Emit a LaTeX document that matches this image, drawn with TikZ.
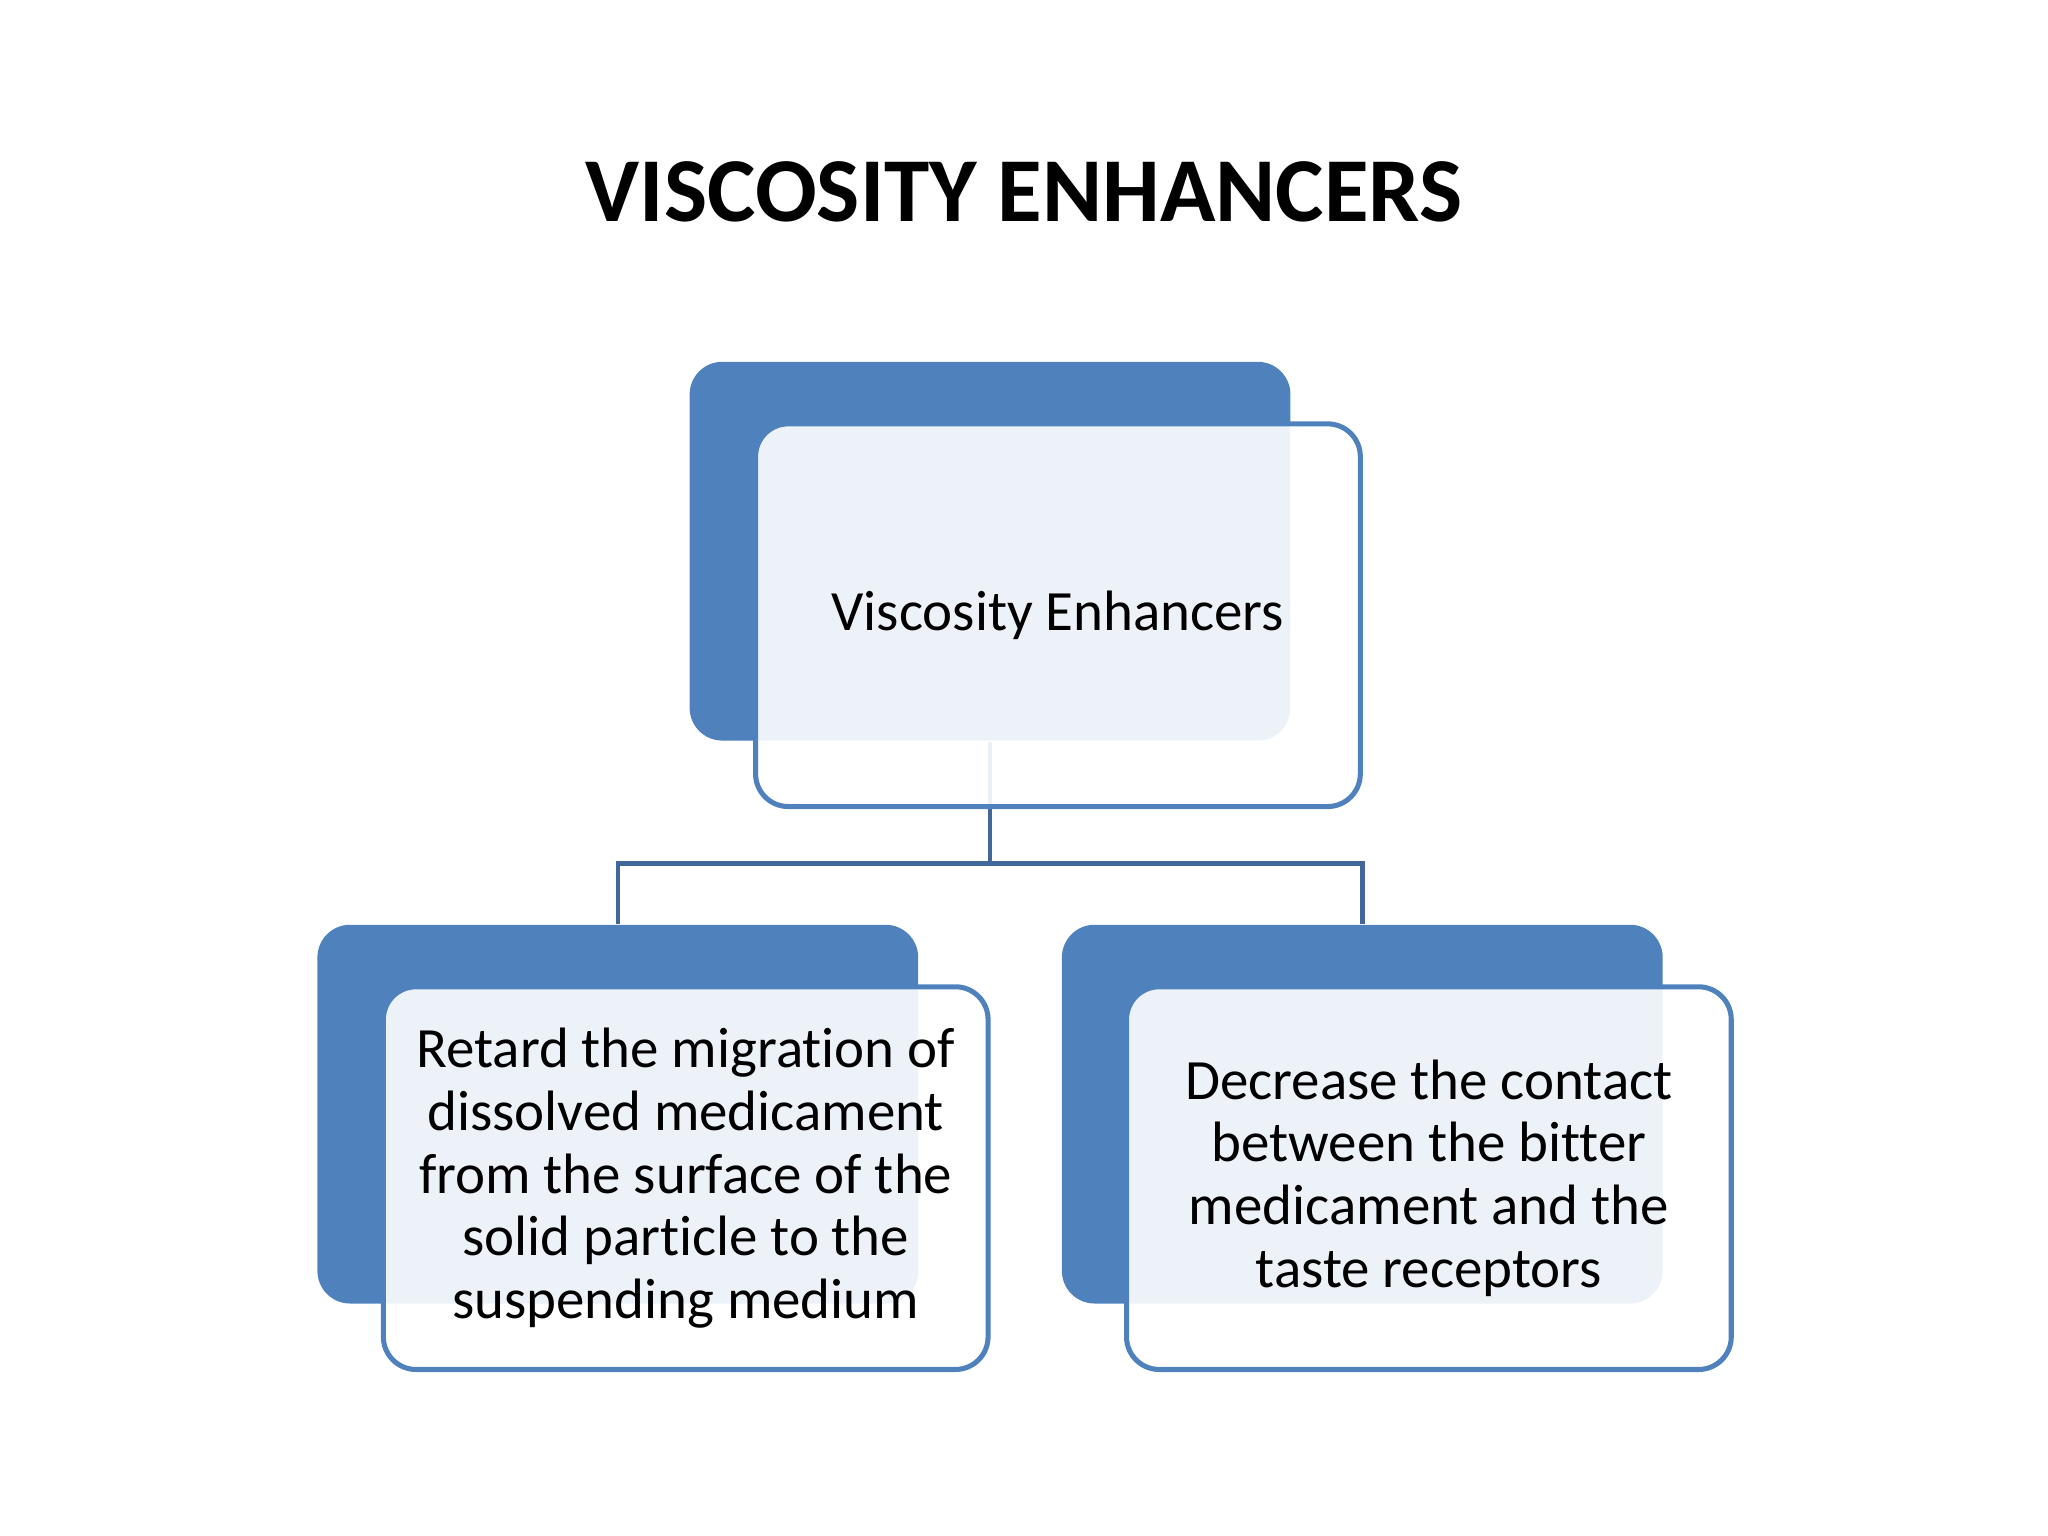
\documentclass[tikz,border=0pt]{standalone}
\usepackage{fontspec}
\setmainfont[Ligatures={NoCommon,NoContextual}, Contextuals=NoAlternate]{Carlito}
\usetikzlibrary{positioning}
\definecolor{vblue}{HTML}{4F81BD}
\definecolor{linkblue}{HTML}{41689B}
\tikzset{
  backbox/.style={fill=vblue, rounded corners=2.5mm, minimum width=4.6cm,
    minimum height=2.9cm, inner sep=0pt},
  frontbox/.style={draw=vblue, line width=1.1pt, fill=white, fill opacity=0.9,
    text opacity=1, rounded corners=2.5mm, minimum width=4.63cm,
    minimum height=2.93cm, align=center, font=\fontsize{12.4}{13.65}\selectfont},
  link/.style={draw=linkblue, line width=1pt},
}
\begin{document}
\begin{tikzpicture}[x=0.1mm, y=-0.1mm]
        \useasboundingbox (0,0) rectangle (1568,1176);

        \node[font=\bfseries\fontsize{19.9}{24}\selectfont] (title) at (784,147) {VISCOSITY ENHANCERS};

        % back boxes
        \node[backbox] (rootback) at (758,422) {};
        \node[backbox] (leftback) at (473,853) {};
        \node[backbox] (rightback) at (1043,853) {};

        % tree lines
        \coordinate (fork) at (758,661);
        \draw[link] (rootback.south) -- (fork);
        \draw[link] (fork) -| (leftback.north);
        \draw[link] (fork) -| (rightback.north);

        % front boxes
        \node[frontbox] (rootfront) at (810,471) {Viscosity Enhancers};
        \node[frontbox] (leftfront) at (525,902) {Retard the migration of\\dissolved medicament\\from the surface of the\\solid particle to the\\suspending medium};
        \node[frontbox] (rightfront) at (1094,902) {Decrease the contact\\between the bitter\\medicament and the\\taste receptors};

\end{tikzpicture}
\end{document}
